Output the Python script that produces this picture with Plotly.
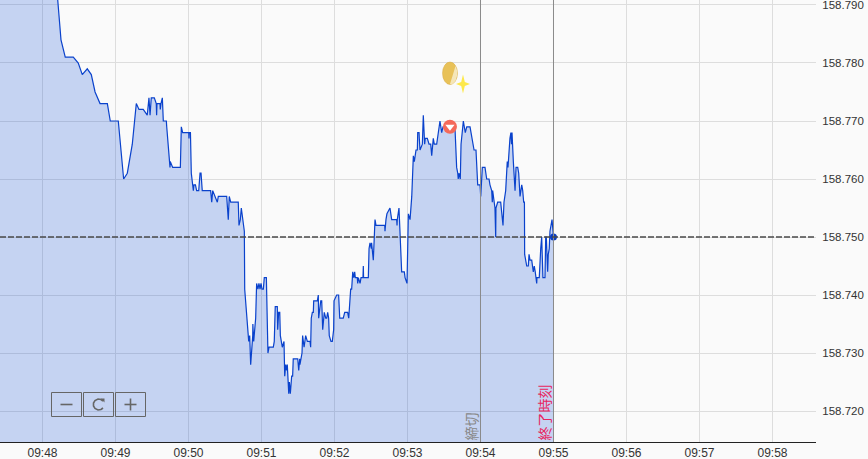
import pandas as pd
import plotly.graph_objects as go

BASE = pd.Timestamp("2024-01-01 09:48:00")

seconds = [-40, 10.3, 12.5, 15.2, 18.7, 25.3, 29.4, 32.7, 36.8, 40.1, 43.2, 47.3, 53.3, 55.7, 62.3, 66.7, 69.7, 73.8, 77.1, 79.3, 82.8, 86.1, 87.5, 88.4, 89.4, 91.9, 93.5, 93.8, 94.1, 96.6, 96.8, 97.4, 98.5, 99.3, 101.8, 102.1, 104.8, 105, 107, 113.3, 114.1, 115.2, 120.2, 120.4, 120.6, 121.6, 122.3, 124, 124.5, 125.7, 126.7, 128.4, 129.5, 130.3, 131.3, 138.2, 139.1, 139.9, 141.8, 143.7, 144.5, 151.4, 152.7, 153.5, 154.7, 160.9, 161.5, 162.6, 163.4, 165.9,
           166.2, 167, 167.8, 169.5, 170.3, 171.1, 172.8, 172.9, 173.6, 174.9, 175.2, 176, 177.1, 177.9, 178.8, 179.6, 180.4, 181.5, 182.3, 184, 184.8, 185.3, 186.2, 189.7, 190.5, 191.3, 193, 193.3, 194.1, 195, 195.5, 196.3, 197.1, 198.5, 199.1, 199.9, 200.7, 201.2, 202.4, 202.9, 203.7, 204.8, 205.6, 206.1, 209.8, 210.6, 211.4, 211.6, 213.3, 213.8, 215, 216.3, 217.7, 219.9, 220.4, 220.9, 221.8, 222.6, 222.9, 225.9, 226.7, 227, 228.7, 229.5, 230.3, 231.6, 232.8, 233.6, 234.4, 235.2, 235.7, 237.1, 238.2, 239.3, 239.6, 241.8, 243.4, 244.3, 247.2, 248.4, 250.8, 251.7, 253.3, 254.1, 255, 255.8, 256.6, 257.1, 258.7, 259.1, 259.6, 261, 261.8, 263.4, 263.7, 263.9, 267.8, 268.4, 269.2, 270.3, 270.5, 271.1, 271.9, 272.7, 273.3, 274.1, 281.3, 281.5, 281.7, 282.3, 283.1, 285.6, 287, 291.1, 291.4, 291.6, 293, 294.7, 295.2, 297.4, 298, 299.6, 300.7, 302.1, 303.5, 304.8, 305.6, 307, 308.1, 308.4, 309.5, 309.7, 310.3, 312.2, 313, 314.1, 314.6, 316.3, 317.7, 319.1, 319.9, 321.2, 322, 324, 325.3, 326.7, 328.1, 329.2, 339, 340.4, 341.3, 341.7, 342.3, 343.4, 344, 345.9, 347.5, 348.7, 351.4, 353.3, 354.7, 356.3, 357.7, 359.6, 360.2, 361.5, 363.7, 365.1, 367, 367.8, 369.2, 369.7, 370, 371.9, 372.5, 372.7, 374.1, 376.6, 377.4, 378.5, 379.3, 380.7, 382, 382.6, 384.2, 385, 385.5, 385.9, 387, 388.4, 389.2, 390.6, 391.4, 392.5, 393.9, 394.7, 395.5, 396.1, 396.3, 398, 399.3, 399.9, 400.7, 402.1, 403.4, 404.2, 405, 406.2, 406.4, 408.3, 409.5, 410.3, 411.3, 413, 413.6, 414.1, 415.2, 415.7, 416.5, 417.1, 418.8, 420]
prices = [.800, .796, .7909, .784, .781, .781, .780, .778, .779, .778, .775, .773, .773, .770, .770, .760, .761, .766, .773, .772, .772, .771, .774, .771, .774, .774, .773, .771, .773, .773, .772, .773, .774, .770, .770, .769, .762, .763, .762, .762, .769, .768, .768, .767, .768, .768, .761, .758, .759, .759, .758, .758, .761, .761, .758, .758, .756, .758, .757, .756, .757, .757, .753, .757, .756, .756, .752, .753, .755, .751,
          .741, .739, .737, .732, .733, .728, .733, .735, .732, .735, .736, .742, .741, .742, .741, .742, .741, .741, .743, .743, .731, .730, .731, .731, .732, .738, .738, .734, .737, .737, .733, .732, .731, .732, .726, .728, .727, .728, .723, .725, .723, .726, .726, .729, .729, .727, .729, .728, .730, .733, .731, .733, .732, .732, .731, .736, .737, .737, .739, .739, .740, .736, .739, .739, .734, .737, .736, .736, .737, .736, .733, .732, .732, .734, .739, .740, .740, .736, .736, .737, .737, .736, .741, .741, .744, .743, .744, .743, .743, .742, .743, .742, .743, .743, .745, .743, .743, .748, .749, .748, .749, .748, .746, .750, .753, .752, .752, .751, .752, .753, .754, .755, .753, .753, .752, .753, .755, .747, .744, .744, .743, .742, .754, .753, .757, .764, .763, .765, .765, .768, .768, .767, .765, .766, .771, .766, .767, .767, .766, .766, .764, .767, .766, .766, .768, .770, .768, .769, .769, .762, .761, .760, .761, .760, .766, .770, .768, .769, .769, .767, .765, .765, .759, .759, .757, .762, .762, .760, .760, .759, .758, .756, .758, .755, .750, .755, .756, .756, .754, .752, .756, .758, .763, .762, .767, .768, .766, .768, .763, .758, .762, .762, .761, .757, .759, .758, .756, .756, .747, .745, .745, .747, .746, .746, .744, .745, .744, .742, .743, .743, .748, .750, .743, .743, .750, .750, .744, .747, .748, .751, .753, .750]
prices = [158 + p for p in prices]

reference_price = 158.750
close_second = 360
end_second = 420
signal_second = 334.9
signal_price = 158.769
price_ticks = [158.72, 158.73, 158.74, 158.75, 158.76, 158.77, 158.78, 158.79]
close_label = "締切"
end_label = "終了時刻"

W, H = 868, 459
PW, PH = 816, 442

def ts(s):
    return BASE + pd.to_timedelta(s, unit="s")

def px(x):
    return x / PW

def py(y):
    return 1 - y / PH

def pshape(path_pts, **kw):
    d = "M" + " L".join(f"{px(x):.5f},{py(y):.5f}" for x, y in path_pts)
    return dict(type="path", xref="paper", yref="paper", path=d, **kw)

times = [ts(s) for s in seconds]
fig = go.Figure()
fig.add_trace(go.Scatter(x=times, y=prices, mode="lines", fill="tozeroy",
                         line=dict(color="#0a42cc", width=1.2, shape="linear"),
                         fillcolor="rgba(9,73,213,0.22)", hoverinfo="skip"))
fig.add_trace(go.Scatter(x=[times[-1]], y=[prices[-1]], mode="markers",
                         marker=dict(color="#0a3cc0", size=7, line=dict(width=0)), hoverinfo="skip"))
fig.add_trace(go.Scatter(x=[ts(signal_second)], y=[signal_price], mode="markers",
                         marker=dict(color="#f4695a", size=14, line=dict(width=0)), hoverinfo="skip"))
fig.add_trace(go.Scatter(x=[ts(signal_second)], y=[signal_price], mode="markers",
                         marker=dict(color="white", size=8, symbol="triangle-down", line=dict(width=0)),
                         hoverinfo="skip"))

shapes = [
    dict(type="line", xref="x", yref="paper", x0=ts(close_second), x1=ts(close_second), y0=0, y1=1,
         line=dict(color="#8a8a8a", width=1)),
    dict(type="line", xref="x", yref="paper", x0=ts(end_second), x1=ts(end_second), y0=0, y1=1,
         line=dict(color="#8a8a8a", width=1)),
    dict(type="line", xref="paper", yref="y", x0=0, x1=1, y0=reference_price, y1=reference_price,
         line=dict(color="#4a4a4a", width=1.5, dash="6px,2px")),
    # coin
    dict(type="circle", xref="paper", yref="paper", x0=px(442.5), x1=px(457.5), y0=py(84.5), y1=py(62),
         fillcolor="#e8c158", line=dict(color="#d9aa45", width=0.5)),
    pshape([(455.5, 66), (457.3, 71), (457, 76), (455.5, 81), (452.5, 84), (450, 84), (452.5, 76), (455.5, 66)],
           fillcolor="#f5e6b8", line=dict(width=0)),
    # sparkle
    pshape([(463, 74.5), (464.8, 82), (470, 84), (464.8, 86), (463, 93.5), (461.2, 86), (456, 84), (461.2, 82), (463, 74.5)],
           fillcolor="#fde84a", line=dict(width=0)),
]
# zoom buttons
for x0, x1 in [(51.5, 81.5), (83.5, 113.5), (115.5, 145.5)]:
    shapes.append(dict(type="rect", xref="paper", yref="paper", x0=px(x0), x1=px(x1), y0=py(416.5), y1=py(392.5),
                       fillcolor="rgba(0,0,0,0)", line=dict(color="#666666", width=1)))
icon = dict(color="#666666", width=1.6)
shapes += [
    pshape([(60.5, 404.5), (72.5, 404.5)], line=icon),
    pshape([(124.5, 404.5), (136.5, 404.5)], line=icon),
    pshape([(130.5, 398.5), (130.5, 410.5)], line=icon),
    pshape([(103, 401), (101, 399.5), (98, 399), (95, 400.5), (93.5, 403), (93.5, 406), (95, 408.5), (98, 410), (101, 409.5), (103, 408)], line=icon),
    pshape([(100.5, 398.5), (104.5, 398.5), (104.5, 402.5), (100.5, 398.5)], fillcolor="#666666", line=dict(width=0)),
]

annotations = [
    dict(text=close_label, xref="x", yref="paper", x=ts(close_second), y=0, xanchor="right", yanchor="bottom",
         xshift=2, yshift=1, textangle=-90, showarrow=False, borderpad=0,
         font=dict(color="#888888", size=14, family="Noto Sans CJK JP")),
    dict(text=end_label, xref="x", yref="paper", x=ts(end_second), y=0, xanchor="right", yanchor="bottom",
         xshift=2, yshift=1, textangle=-90, showarrow=False, borderpad=0,
         font=dict(color="#e8255f", size=14, family="Noto Sans CJK JP")),
]

fig.update_layout(
    width=W, height=H, autosize=False, showlegend=False,
    margin=dict(l=0, r=W - PW, t=0, b=H - PH, pad=0, autoexpand=False),
    paper_bgcolor="#fafafa", plot_bgcolor="#fafafa",
    font=dict(family="Liberation Sans, Arial, sans-serif", size=12, color="#333333"),
    shapes=shapes, annotations=annotations,
    xaxis=dict(range=[ts(-34.93), ts(635.76)], type="date", dtick=60000, tick0=BASE, tickformat="%H:%M",
               automargin=False, showgrid=True, gridcolor="#dddddd", gridwidth=1, zeroline=False,
               showline=True, linecolor="#222222", linewidth=1, ticks="", ticklen=0,
               tickfont=dict(size=12, color="#333333")),
    yaxis=dict(range=[158.71466, 158.79086], side="right", tickvals=price_ticks, tickformat=".3f",
               automargin=False, ticklabeloverflow="allow", showgrid=True, gridcolor="#dddddd", gridwidth=1,
               zeroline=False, showline=False, ticks="outside", ticklen=3, tickcolor="rgba(0,0,0,0)",
               tickfont=dict(size=11.5, color="#333333")),
)
fig.write_html("out.html", config=dict(displayModeBar=False),
               post_script="document.body.style.margin='0';document.body.style.overflow='hidden';")
